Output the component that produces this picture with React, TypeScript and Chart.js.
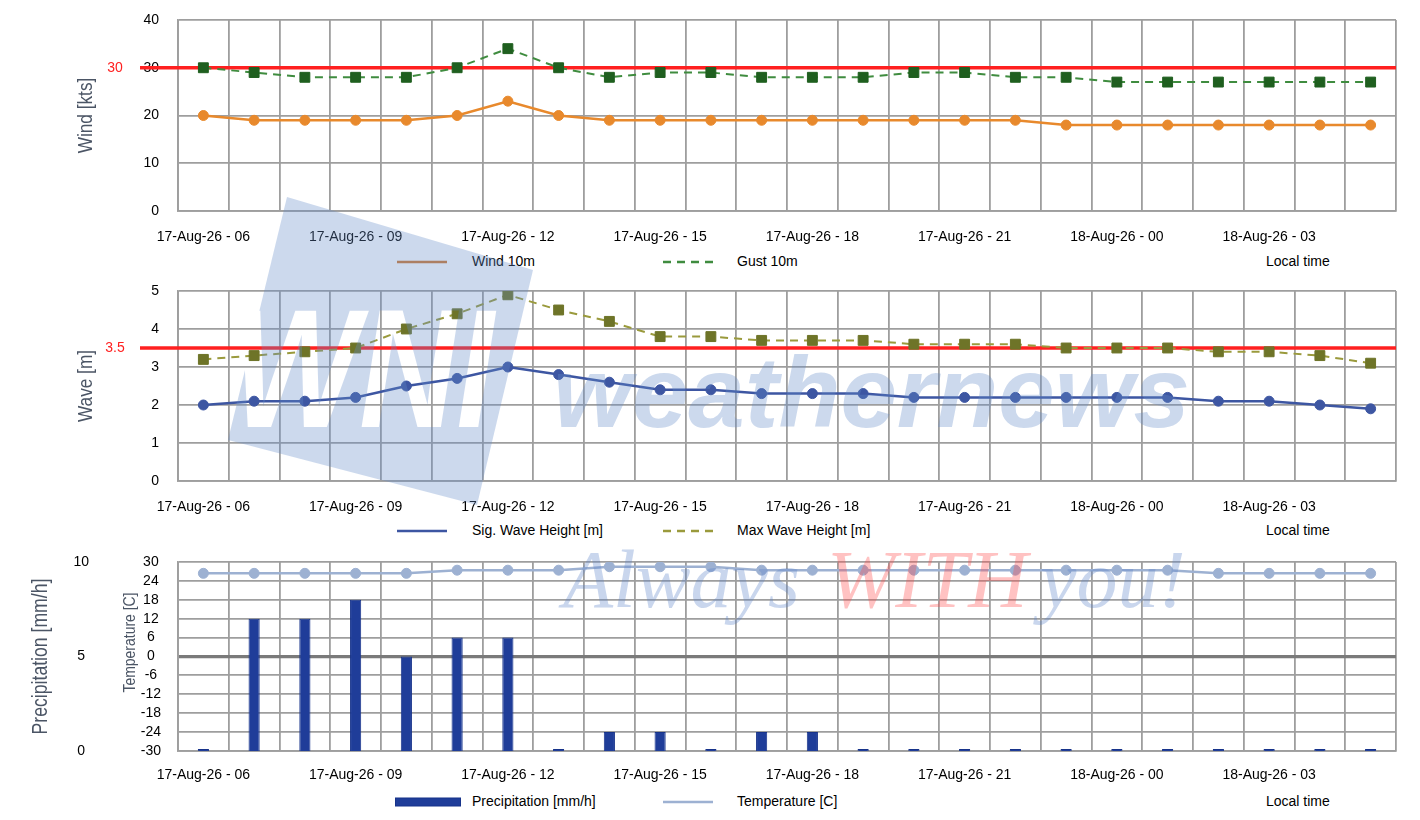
import React, { useEffect, useRef } from "react";
import { Chart, registerables } from "chart.js";

Chart.register(...registerables);

// ---------------- data ----------------
const categories = [
  "17-Aug-26 - 06", "17-Aug-26 - 07", "17-Aug-26 - 08", "17-Aug-26 - 09",
  "17-Aug-26 - 10", "17-Aug-26 - 11", "17-Aug-26 - 12", "17-Aug-26 - 13",
  "17-Aug-26 - 14", "17-Aug-26 - 15", "17-Aug-26 - 16", "17-Aug-26 - 17",
  "17-Aug-26 - 18", "17-Aug-26 - 19", "17-Aug-26 - 20", "17-Aug-26 - 21",
  "17-Aug-26 - 22", "17-Aug-26 - 23", "18-Aug-26 - 00", "18-Aug-26 - 01",
  "18-Aug-26 - 02", "18-Aug-26 - 03", "18-Aug-26 - 04", "18-Aug-26 - 05",
];
const wind10m = [20, 19, 19, 19, 19, 20, 23, 20, 19, 19, 19, 19, 19, 19, 19, 19, 19, 18, 18, 18, 18, 18, 18, 18];
const gust10m = [30, 29, 28, 28, 28, 30, 34, 30, 28, 29, 29, 28, 28, 28, 29, 29, 28, 28, 27, 27, 27, 27, 27, 27];
const sigWaveHeight = [2.0, 2.1, 2.1, 2.2, 2.5, 2.7, 3.0, 2.8, 2.6, 2.4, 2.4, 2.3, 2.3, 2.3, 2.2, 2.2, 2.2, 2.2, 2.2, 2.2, 2.1, 2.1, 2.0, 1.9];
const maxWaveHeight = [3.2, 3.3, 3.4, 3.5, 4.0, 4.4, 4.9, 4.5, 4.2, 3.8, 3.8, 3.7, 3.7, 3.7, 3.6, 3.6, 3.6, 3.5, 3.5, 3.5, 3.4, 3.4, 3.3, 3.1];
const precipitation = [0, 7, 7, 8, 5, 6, 6, 0, 1, 1, 0, 1, 1, 0, 0, 0, 0, 0, 0, 0, 0, 0, 0, 0];
const temperature = [26.4, 26.4, 26.4, 26.4, 26.4, 27.4, 27.4, 27.4, 28.5, 28.5, 28.5, 27.4, 27.4, 27.4, 27.4, 27.4, 27.4, 27.4, 27.4, 27.4, 26.4, 26.4, 26.4, 26.4];

const windThreshold = 30;
const waveThreshold = 3.5;
const windRange = [0, 40, 10];
const waveRange = [0, 5, 1];
const precipRange = [0, 10, 5];
const tempRange = [-30, 30, 6];
const labelEvery = 3;

// ---------------- styles ----------------
const SANS = "'Liberation Sans', Arial, Helvetica, sans-serif";
const GRID = "#9e9e9e";
const TITLE = "#4b5565";
const RED = "#ff2020";
const C_WIND = "#e8892c";
const C_GUST_LINE = "#3f8c3f";
const C_GUST_PT = "#1f5f1f";
const C_SIG = "#3d56a2";
const C_MAX_LINE = "#9a9a3c";
const C_MAX_PT = "#6e7428";
const C_PREC = "#1f3d99";
const C_TEMP = "#9db1d2";

Chart.defaults.font.family = SANS;

const thresholdPlugin = {
  id: "threshold",
  beforeDatasetsDraw(chart: any, _args: any, opts: any) {
    if (!opts || opts.value == null) return;
    const { ctx, chartArea } = chart;
    const y = chart.scales.y.getPixelForValue(opts.value);
    ctx.save();
    ctx.strokeStyle = RED;
    ctx.lineWidth = 3.5;
    ctx.beginPath();
    ctx.moveTo(chartArea.left - 38, y);
    ctx.lineTo(chartArea.right, y);
    ctx.stroke();
    ctx.fillStyle = RED;
    ctx.font = `14px ${SANS}`;
    ctx.textAlign = "center";
    ctx.textBaseline = "middle";
    ctx.fillText(opts.label, chartArea.left - 63, y);
    ctx.restore();
  },
};

// condensed, rotated axis titles (the source uses a narrow face)
const axisTitlePlugin = {
  id: "axisTitles",
  afterDraw(chart: any, _args: any, opts: any) {
    const items = opts && opts.items;
    if (!items) return;
    const { ctx, chartArea } = chart;
    const cy = (chartArea.top + chartArea.bottom) / 2;
    for (const it of items) {
      ctx.save();
      ctx.translate(it.x, cy + (it.dy || 0));
      ctx.rotate(-Math.PI / 2);
      ctx.scale(0.82, 1);
      ctx.font = `${it.size}px ${SANS}`;
      ctx.fillStyle = TITLE;
      ctx.textAlign = "center";
      ctx.textBaseline = "middle";
      ctx.fillText(it.text, 0, 0);
      ctx.restore();
    }
  },
};

function xScale(pad: number) {
  return {
    type: "category",
    offset: true,
    grid: { offset: true, color: GRID, lineWidth: 1.8, drawTicks: false },
    border: { color: GRID, width: 1.8 },
    ticks: {
      autoSkip: false,
      maxRotation: 0,
      minRotation: 0,
      padding: pad,
      color: "#000",
      font: { size: 14, family: SANS },
      callback: (_v: any, i: number) => (i % labelEvery === 0 ? categories[i] : ""),
    },
    afterFit: (s: any) => {
      s.height = 39;
    },
  };
}

function fixY(width: number) {
  return (s: any) => {
    s.width = width;
    s.paddingTop = 8;
    s.paddingBottom = 8;
  };
}

function yScale(range: number[], width: number) {
  return {
    position: "left",
    min: range[0],
    max: range[1],
    grid: { color: GRID, lineWidth: 1.8, drawTicks: false },
    border: { color: GRID, width: 1.8 },
    ticks: { stepSize: range[2], autoSkip: false, padding: 19, color: "#000", font: { size: 14, family: SANS } },
    afterFit: fixY(width),
  };
}

function lineDs(label: string, data: number[], line: string, pt: string, opts: any = {}) {
  return {
    type: "line",
    label,
    data,
    borderColor: line,
    backgroundColor: pt,
    pointBackgroundColor: pt,
    pointBorderColor: pt,
    borderWidth: 2.5,
    pointRadius: 5,
    pointBorderWidth: 1,
    pointStyle: "circle",
    tension: 0,
    ...opts,
  };
}

function useChart(makeConfig: () => any) {
  const ref = useRef<HTMLCanvasElement | null>(null);
  useEffect(() => {
    if (!ref.current) return;
    const chart = new Chart(ref.current, makeConfig());
    return () => chart.destroy();
  }, []);
  return ref;
}

function WindChart() {
  const ref = useChart(() => ({
    type: "line",
    data: {
      labels: categories,
      datasets: [
        lineDs("Wind 10m", wind10m, C_WIND, C_WIND),
        lineDs("Gust 10m", gust10m, C_GUST_LINE, C_GUST_PT, {
          borderDash: [8, 6],
          borderWidth: 2,
          pointStyle: "rect",
          pointRadius: 7,
        }),
      ],
    },
    options: {
      responsive: false,
      animation: false,
      layout: { padding: { left: 74, right: 24, top: 20, bottom: 0 } },
      plugins: {
        legend: { display: false },
        tooltip: { enabled: false },
        threshold: { value: windThreshold, label: String(windThreshold) },
        axisTitles: { items: [{ text: "Wind [kts]", x: 86, size: 21 }] },
      },
      scales: { x: xScale(18), y: yScale(windRange, 104) },
    },
    plugins: [thresholdPlugin, axisTitlePlugin],
  }));
  return <canvas ref={ref} width={1420} height={250} style={{ position: "absolute", left: 0, top: 0, width: 1420, height: 250 }} />;
}

function WaveChart() {
  const ref = useChart(() => ({
    type: "line",
    data: {
      labels: categories,
      datasets: [
        lineDs("Sig. Wave Height [m]", sigWaveHeight, C_SIG, C_SIG),
        lineDs("Max Wave Height [m]", maxWaveHeight, C_MAX_LINE, C_MAX_PT, {
          borderDash: [8, 6],
          borderWidth: 2,
          pointStyle: "rect",
          pointRadius: 7,
        }),
      ],
    },
    options: {
      responsive: false,
      animation: false,
      layout: { padding: { left: 74, right: 24, top: 21, bottom: 0 } },
      plugins: {
        legend: { display: false },
        tooltip: { enabled: false },
        threshold: { value: waveThreshold, label: String(waveThreshold) },
        axisTitles: { items: [{ text: "Wave [m]", x: 86, size: 21 }] },
      },
      scales: { x: xScale(18), y: yScale(waveRange, 104) },
    },
    plugins: [thresholdPlugin, axisTitlePlugin],
  }));
  return <canvas ref={ref} width={1420} height={250} style={{ position: "absolute", left: 0, top: 270, width: 1420, height: 250 }} />;
}

function PrecipChart() {
  const ref = useChart(() => ({
    type: "bar",
    data: {
      labels: categories,
      datasets: [
        {
          type: "bar",
          label: "Precipitation [mm/h]",
          data: precipitation,
          yAxisID: "yP",
          backgroundColor: C_PREC,
          borderColor: "#17338a",
          borderWidth: 1,
          barPercentage: 0.22,
          categoryPercentage: 1,
          minBarLength: 2,
          order: 2,
        },
        { ...lineDs("Temperature [C]", temperature, C_TEMP, C_TEMP), yAxisID: "yT", order: 1 },
      ],
    },
    options: {
      responsive: false,
      animation: false,
      layout: { padding: { left: 28, right: 24, top: 22, bottom: 0 } },
      plugins: {
        legend: { display: false },
        tooltip: { enabled: false },
        axisTitles: {
          items: [
            { text: "Precipitation [mm/h]", x: 41, size: 21.5 },
            { text: "Temperature [C]", x: 130, size: 17, dy: -14 },
          ],
        },
      },
      scales: {
        x: xScale(16),
        yP: {
          position: "left",
          weight: 1,
          min: precipRange[0],
          max: precipRange[1],
          grid: { display: false, drawTicks: false },
          border: { display: false },
          ticks: { stepSize: precipRange[2], autoSkip: false, crossAlign: "center", padding: 31, color: "#000", font: { size: 14, family: SANS } },
          afterFit: fixY(92),
        },
        yT: {
          position: "left",
          weight: 0,
          min: tempRange[0],
          max: tempRange[1],
          grid: {
            drawTicks: false,
            color: (c: any) => (c.tick && c.tick.value === 0 ? "#7a7a7a" : GRID),
            lineWidth: (c: any) => (c.tick && c.tick.value === 0 ? 3.2 : 1.8),
          },
          border: { color: GRID, width: 1.8 },
          ticks: { stepSize: tempRange[2], autoSkip: false, crossAlign: "center", padding: 17, color: "#000", font: { size: 14, family: SANS } },
          afterFit: fixY(58),
        },
      },
    },
    plugins: [axisTitlePlugin],
  }));
  return <canvas ref={ref} width={1420} height={250} style={{ position: "absolute", left: 0, top: 540, width: 1420, height: 250 }} />;
}

type LegendItem = { label: string; color: string; kind: "line" | "dash" | "bar" };

function LegendRow({ y, items }: { y: number; items: LegendItem[] }) {
  const sampleX = [397, 663];
  const textX = [472, 737];
  return (
    <>
      {items.map((it, i) => (
        <React.Fragment key={it.label}>
          <svg
            width={70}
            height={12}
            style={{ position: "absolute", left: it.kind === "bar" ? sampleX[i] - 2 : sampleX[i], top: y - 6 }}
          >
            {it.kind === "bar" ? (
              <rect x={0.5} y={2} width={65} height={8} fill={it.color} stroke="#17338a" strokeWidth={1} />
            ) : (
              <line
                x1={0}
                y1={6}
                x2={50}
                y2={6}
                stroke={it.color}
                strokeWidth={2.5}
                strokeDasharray={it.kind === "dash" ? "8 6" : undefined}
              />
            )}
          </svg>
          <div
            style={{
              position: "absolute",
              left: textX[i],
              top: y - 9,
              font: `14px ${SANS}`,
              lineHeight: "17px",
              color: "#000",
              whiteSpace: "nowrap",
            }}
          >
            {it.label}
          </div>
        </React.Fragment>
      ))}
      <div style={{ position: "absolute", left: 1266, top: y - 9, font: `14px ${SANS}`, lineHeight: "17px", color: "#000" }}>
        Local time
      </div>
    </>
  );
}

function Watermark() {
  return (
    <svg width={1420} height={820} style={{ position: "absolute", left: 0, top: 0, pointerEvents: "none" }}>
      <defs>
        <mask id="wniMask">
          <rect x={0} y={0} width={1420} height={820} fill="#fff" />
          <text
            x={232}
            y={427}
            fontSize={168}
            fontWeight="bold"
            fontStyle="italic"
            fontFamily={SANS}
            textLength={262}
            lengthAdjust="spacingAndGlyphs"
            fill="#000"
          >
            WNI
          </text>
        </mask>
      </defs>
      <polygon points="287,197 533,270 477,505 228,440" fill="rgb(100,140,200)" fillOpacity={0.33} mask="url(#wniMask)" />
      <text
        x={553}
        y={427}
        fontSize={100}
        fontWeight="bold"
        fontStyle="italic"
        fontFamily={SANS}
        textLength={637}
        lengthAdjust="spacingAndGlyphs"
        fill="rgb(100,140,200)"
        fillOpacity={0.33}
      >
        weathernews
      </text>
      <text x={563} y={607} fontSize={82} fontStyle="italic" fontFamily="'Liberation Serif', 'Times New Roman', serif" fill="rgb(90,130,200)" fillOpacity={0.33}>
        Always
      </text>
      <text x={827} y={607} fontSize={82} fontStyle="italic" fontFamily="'Liberation Serif', 'Times New Roman', serif" fill="rgb(255,70,70)" fillOpacity={0.33}>
        WITH
      </text>
      <text x={1040} y={607} fontSize={82} fontStyle="italic" fontFamily="'Liberation Serif', 'Times New Roman', serif" fill="rgb(90,130,200)" fillOpacity={0.33}>
        you!
      </text>
    </svg>
  );
}

export default function App() {
  return (
    <div
      style={{
        position: "absolute",
        left: 0,
        top: 0,
        width: 1420,
        height: 820,
        background: "#fff",
        overflow: "hidden",
        fontFamily: SANS,
      }}
    >
      <WindChart />
      <WaveChart />
      <PrecipChart />
      <LegendRow
        y={262}
        items={[
          { label: "Wind 10m", color: "#d07a32", kind: "line" },
          { label: "Gust 10m", color: C_GUST_LINE, kind: "dash" },
        ]}
      />
      <LegendRow
        y={531}
        items={[
          { label: "Sig. Wave Height [m]", color: C_SIG, kind: "line" },
          { label: "Max Wave Height [m]", color: C_MAX_LINE, kind: "dash" },
        ]}
      />
      <LegendRow
        y={802}
        items={[
          { label: "Precipitation [mm/h]", color: C_PREC, kind: "bar" },
          { label: "Temperature [C]", color: C_TEMP, kind: "line" },
        ]}
      />
      <Watermark />
    </div>
  );
}
